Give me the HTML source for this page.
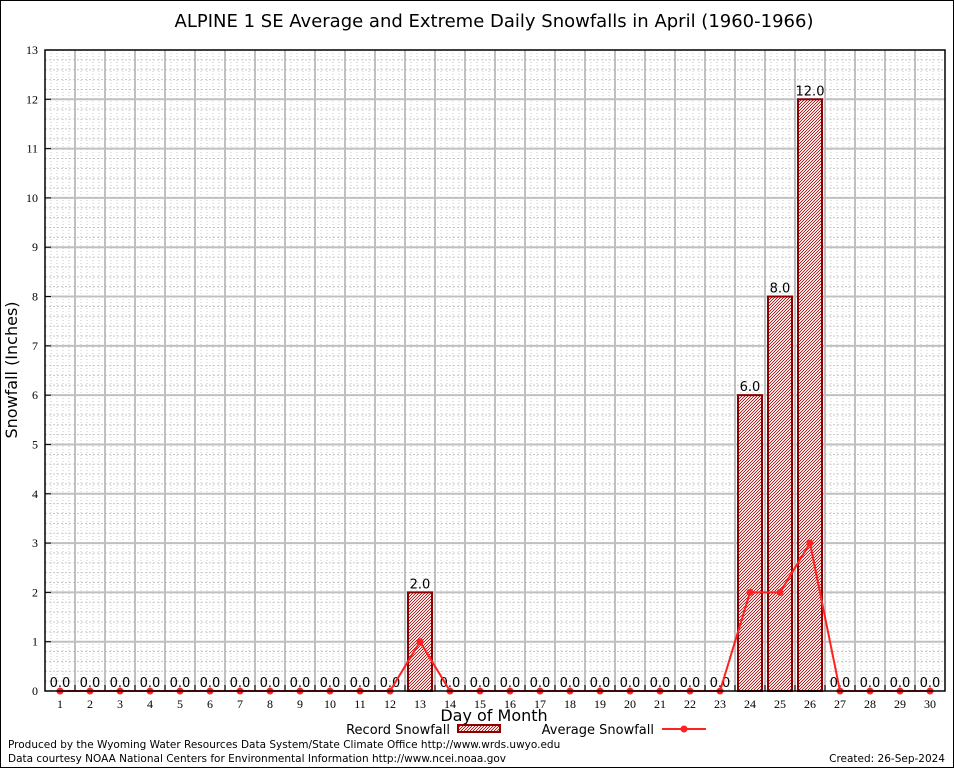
<!DOCTYPE html>
<html><head><meta charset="utf-8"><style>
body{margin:0;background:#fff}
svg{display:block;font-family:"DejaVu Sans","Liberation Sans",sans-serif}
</style></head><body>
<svg id="chart" width="954" height="768" xmlns="http://www.w3.org/2000/svg">
<defs>
<pattern id="hatch" width="3" height="3" patternUnits="userSpaceOnUse">
<rect width="3" height="3" fill="#f6e4e4"/>
<rect width="1" height="1" fill="#b82020"/><rect x="2" y="1" width="1" height="1" fill="#b82020"/><rect x="1" y="2" width="1" height="1" fill="#b82020"/>
</pattern>
</defs>
<rect x="0.5" y="0.5" width="953" height="767" fill="#fff" stroke="#000"/>
<text x="494" y="27" font-size="18" text-anchor="middle">ALPINE 1 SE Average and Extreme Daily Snowfalls in April (1960-1966)</text>
<g id="grid"></g>
<g id="bars"></g>
<g id="line"></g>
<g id="axes"></g>
<text x="17" y="370" font-size="16" text-anchor="middle" transform="rotate(-90 17 370)">Snowfall (Inches)</text>
<text x="494" y="721" font-size="16" text-anchor="middle">Day of Month</text>
<g>
<text x="450" y="734" font-size="13" text-anchor="end">Record Snowfall</text>
<rect x="458" y="725" width="42" height="7" fill="url(#hatch)" stroke="#8b0000" stroke-width="2"/>
</g>
<g>
<text x="654" y="734" font-size="13" text-anchor="end">Average Snowfall</text>
<line x1="662" y1="729" x2="706" y2="729" stroke="#ff2020" stroke-width="2"/>
<circle cx="684" cy="729" r="3.5" fill="#ff2020"/>
</g>
<text x="8" y="748" font-size="10.5">Produced by the Wyoming Water Resources Data System/State Climate Office http://www.wrds.uwyo.edu</text>
<text x="8" y="762" font-size="10.5">Data courtesy NOAA National Centers for Environmental Information http://www.ncei.noaa.gov</text>
<text x="945" y="762" font-size="10.5" text-anchor="end">Created:  26-Sep-2024</text>
</svg>
<script>
const days=[1,2,3,4,5,6,7,8,9,10,11,12,13,14,15,16,17,18,19,20,21,22,23,24,25,26,27,28,29,30];
const record=[0,0,0,0,0,0,0,0,0,0,0,0,2,0,0,0,0,0,0,0,0,0,0,6,8,12,0,0,0,0];
const average=[0,0,0,0,0,0,0,0,0,0,0,0,1,0,0,0,0,0,0,0,0,0,0,2,2,3,0,0,0,0];
const yTicks=[0,1,2,3,4,5,6,7,8,9,10,11,12,13];
const L=45,R=945,T=50,B=691;
const x=d=>L+(d-0.5)*(R-L)/30;
const y=v=>B-v*(B-T)/13;
const NS="http://www.w3.org/2000/svg";
function mk(p,t,a){const e=document.createElementNS(NS,t);for(const k in a)e.setAttribute(k,a[k]);p.appendChild(e);return e;}
const grid=document.getElementById('grid'),bars=document.getElementById('bars'),line=document.getElementById('line'),axes=document.getElementById('axes');
for(let i=1;i<150;i++){if(i%5)mk(grid,'line',{x1:L+i*6,x2:L+i*6,y1:T,y2:B,stroke:'#c8c8c8','stroke-dasharray':'1,2','stroke-width':1});}
for(let i=1;i<65;i++){if(i%5)mk(grid,'line',{x1:L,x2:R,y1:y(i/5),y2:y(i/5),stroke:'#c8c8c8','stroke-dasharray':'2,2','stroke-width':1});}
for(let d=1;d<30;d++)mk(grid,'line',{x1:L+d*30,x2:L+d*30,y1:T,y2:B,stroke:'#c0c0c0','stroke-width':2});
yTicks.forEach(v=>{if(v>0&&v<13)mk(grid,'line',{x1:L,x2:R,y1:y(v),y2:y(v),stroke:'#c0c0c0','stroke-width':2});});
days.forEach((d,i)=>{
 const v=record[i];
 if(v>0){const r=mk(bars,'rect',{x:x(d)-12,y:y(v),width:24,height:y(0)-y(v),fill:'url(#hatch)',stroke:'#8b0000','stroke-width':2});
 
 }
 const t=mk(bars,'text',{x:x(d),y:y(v)-4,'font-size':13,'text-anchor':'middle'});
 t.textContent=v.toFixed(1);
 
 
});
mk(line,'polyline',{points:days.map((d,i)=>x(d)+','+y(average[i])).join(' '),fill:'none',stroke:'#ff2020','stroke-width':2});
days.forEach((d,i)=>{const c=mk(line,'circle',{cx:x(d),cy:y(average[i]),r:3.5,fill:'#ff2020'});
 
 });
mk(axes,'rect',{x:L,y:T,width:R-L,height:B-T,fill:'none',stroke:'#000','stroke-width':1.5});
yTicks.forEach(v=>{mk(axes,'line',{x1:L,x2:L+6,y1:y(v),y2:y(v),stroke:'#000'});
 const t=mk(axes,'text',{x:L-7,y:y(v)+4,'font-size':12,'text-anchor':'end','font-family':'Liberation Serif,serif'});t.textContent=v;
 
 });
for(let d=1;d<30;d++)mk(axes,'line',{x1:L+d*30,x2:L+d*30,y1:B,y2:B-6,stroke:'#000'});
days.forEach(d=>{const t=mk(axes,'text',{x:x(d),y:B+17,'font-size':12,'text-anchor':'middle','font-family':'Liberation Serif,serif'});t.textContent=d;
 
 });
</script>
</body></html>
